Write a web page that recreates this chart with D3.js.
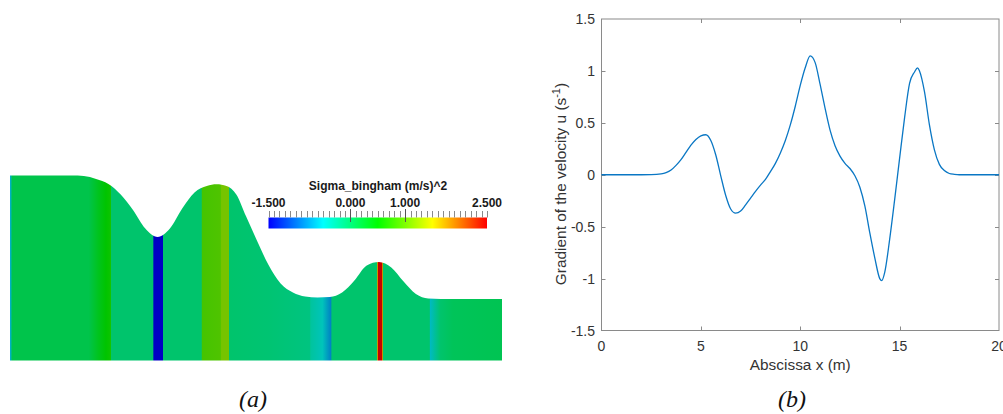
<!DOCTYPE html>
<html>
<head>
<meta charset="utf-8">
<script src="https://cdn.jsdelivr.net/npm/d3@7/dist/d3.min.js"></script>
<style>
    body { margin: 0; background: #fff; }
    svg { display: block; font-family: "Liberation Sans", Arial, Helvetica, sans-serif; }
</style>
</head>
<body>
<svg id="fig" width="1003" height="414"></svg>
<script>
/************************************* Data *************************************/

// (a) free surface profile along the channel (x in m, height of the water column)
const profileX = [0, 2.5, 3.0, 3.5, 4.0, 4.5, 5.0, 5.5, 6.0, 6.5, 7.0, 7.5, 8.0, 8.4, 8.8, 9.2, 9.6,
    10.0, 10.5, 11.0, 11.5, 12.0, 12.5, 13.0, 13.5, 14.0, 14.5, 15.0, 15.5, 16.0, 16.5, 17.0, 17.5, 20];
const profileH = [1.85, 1.85, 1.845, 1.815, 1.765, 1.66, 1.505, 1.32, 1.235, 1.32, 1.52, 1.68, 1.745, 1.762, 1.745, 1.66, 1.44,
    1.22, 0.96, 0.77, 0.68, 0.64, 0.63, 0.635, 0.68, 0.80, 0.95, 0.985, 0.93, 0.79, 0.665, 0.62, 0.615, 0.615];

// (a) Sigma_bingham along x (value sampled at the stations, drawn as vertical bands)
const sigmaX = [0, 0.05, 0.07, 3.2, 3.6, 3.9, 4.05, 4.1, 4.12, 5.82, 5.84, 6.2, 6.22, 7.78, 7.8, 8.55, 8.6, 8.9, 8.92,
    10.5, 12.2, 12.22, 12.7, 13.05, 13.08, 14.9, 14.93, 14.97, 15.11, 15.15, 15.18, 17.05, 17.07, 17.5, 18.0, 20];
const sigmaVal = [-0.6, -0.6, 0.12, 0.12, 0.35, 0.5, 0.55, 0.62, -0.05, -0.05, -2.0, -2.0, -0.05, -0.05, 0.85, 0.9, 1.1, 1.1, -0.05,
    -0.08, -0.15, -0.3, -0.45, -0.85, -0.05, -0.05, 1.5, 2.5, 2.5, 1.6, -0.05, -0.05, -0.55, -0.05, 0.05, 0.08];

// colour bar
const barDomain = [-1.5, -0.5, 0.5, 1.5, 2.5];
const barColors = ["#0000ff", "#00ffff", "#00ff00", "#ffff00", "#ff0000"];
const barLabels = [-1.5, 0, 1, 2.5];

// (b) gradient of the velocity
const gradX = [0, 1, 2, 2.5, 3, 3.25, 3.5, 3.75, 4, 4.25, 4.5, 4.75, 5, 5.25, 5.5, 5.75, 6, 6.25, 6.5, 6.75,
    7, 7.25, 7.5, 7.75, 8, 8.25, 8.5, 8.75, 9, 9.25, 9.5, 9.75, 10, 10.25, 10.5, 10.75, 11, 11.25, 11.5, 11.75,
    12, 12.25, 12.5, 12.75, 13, 13.25, 13.5, 13.75, 14, 14.1, 14.25, 14.5, 14.75, 15, 15.25, 15.5, 15.75, 15.9, 16,
    16.25, 16.5, 16.75, 17, 17.25, 17.5, 17.75, 18, 19, 20];
const gradY = [0, 0, 0, 0.001, 0.008, 0.02, 0.045, 0.09, 0.145, 0.215, 0.285, 0.34, 0.375, 0.385, 0.33, 0.19, -0.01, -0.2, -0.33, -0.37,
    -0.35, -0.29, -0.225, -0.16, -0.1, -0.045, 0.03, 0.11, 0.21, 0.33, 0.48, 0.66, 0.86, 1.03, 1.145, 1.08, 0.87, 0.64, 0.43, 0.28,
    0.18, 0.11, 0.06, -0.01, -0.12, -0.3, -0.56, -0.8, -1.0, -1.02, -0.94, -0.62, -0.24, 0.16, 0.55, 0.88, 0.99, 1.03, 1.0,
    0.8, 0.48, 0.24, 0.1, 0.04, 0.012, 0.004, 0, 0, 0];
const xTicks = [0, 5, 10, 15, 20];
const yTicks = [-1.5, -1, -0.5, 0, 0.5, 1, 1.5];

/************************************* Panel (a) *************************************/
const svg = d3.select("#fig");
const defs = svg.append("defs");

const px = d3.scaleLinear().domain([0, 20]).range([10, 502]);
const ph = d3.scaleLinear().domain([0, 1.85]).range([360.5, 175.5]);

// jet colour map, the rendered field is darkened by lighting
const jet = d3.scaleLinear().domain(barDomain).range(barColors).clamp(true);
const shade = 0.77;
const shaded = function (v) {
    const c = d3.rgb(jet(v));
    return d3.rgb(c.r * shade, c.g * shade, c.b * shade).formatHex();
};

const fieldGrad = defs.append("linearGradient")
    .attr("id", "field")
    .attr("gradientUnits", "userSpaceOnUse")
    .attr("x1", px(0)).attr("x2", px(20))
    .attr("y1", 0).attr("y2", 0);
fieldGrad.selectAll("stop")
    .data(sigmaX)
    .enter().append("stop")
    .attr("offset", function (d) { return d / 20; })
    .attr("stop-color", function (d, i) { return shaded(sigmaVal[i]); });

const area = d3.area()
    .x(function (d) { return px(d[0]); })
    .y0(ph(0))
    .y1(function (d) { return ph(d[1]); })
    .curve(d3.curveMonotoneX);

svg.append("path")
    .datum(profileX.map(function (x, i) { return [x, profileH[i]]; }))
    .attr("d", area)
    .attr("fill", "url(#field)");

// colour bar
const cb = d3.scaleLinear().domain([-1.5, 2.5]).range([268.5, 487]);
const barGrad = defs.append("linearGradient")
    .attr("id", "bar");
barGrad.selectAll("stop")
    .data(barDomain)
    .enter().append("stop")
    .attr("offset", function (d) { return (d + 1.5) / 4; })
    .attr("stop-color", function (d, i) { return barColors[i]; });

svg.append("rect")
    .attr("x", cb(-1.5)).attr("y", 217.5)
    .attr("width", cb(2.5) - cb(-1.5)).attr("height", 11)
    .attr("fill", "url(#bar)");

svg.append("g")
    .selectAll("line")
    .data(d3.range(0, 41))
    .enter().append("line")
    .attr("x1", function (d) { return Math.round(cb(-1.5 + d * 0.1)) + 0.5; })
    .attr("x2", function (d) { return Math.round(cb(-1.5 + d * 0.1)) + 0.5; })
    .attr("y1", 211).attr("y2", 217.5)
    .attr("stroke", "#8a8a8a")
    .attr("stroke-width", 1);

svg.append("g")
    .selectAll("line")
    .data(barLabels.slice(1, 3))
    .enter().append("line")
    .attr("x1", function (d) { return Math.round(cb(d)) + 0.5; })
    .attr("x2", function (d) { return Math.round(cb(d)) + 0.5; })
    .attr("y1", 209).attr("y2", 222)
    .attr("stroke", "#555")
    .attr("stroke-width", 1);

svg.append("g")
    .selectAll("text")
    .data(barLabels)
    .enter().append("text")
    .attr("x", function (d) { return d === 2.5 ? 502 : cb(d); })
    .attr("y", 207)
    .attr("text-anchor", function (d) { return d === 2.5 ? "end" : "middle"; })
    .attr("font-size", 12)
    .attr("font-weight", "bold")
    .attr("fill", "#1a1a1a")
    .text(function (d) { return d.toFixed(3); });

svg.append("text")
    .attr("x", 378).attr("y", 190)
    .attr("text-anchor", "middle")
    .attr("font-size", 12)
    .attr("font-weight", "bold")
    .attr("fill", "#1a1a1a")
    .text("Sigma_bingham (m/s)^2");

/************************************* Panel (b) *************************************/
const bx = d3.scaleLinear().domain([0, 20]).range([601.5, 999]);
const by = d3.scaleLinear().domain([-1.5, 1.5]).range([330.5, 19]);
const axisColor = "#8a8a8a";
const textColor = "#333";

const plot = svg.append("g");

// ticks on all four sides (inside, MATLAB box)
const tickLen = 4;
plot.selectAll(".xt")
    .data(xTicks.slice(1, -1))
    .enter().append("path")
    .attr("class", "xt")
    .attr("d", function (d) {
        const x = Math.round(bx(d)) + 0.5;
        return "M" + x + "," + by(-1.5) + "v" + (-tickLen) + "M" + x + "," + by(1.5) + "v" + tickLen;
    })
    .attr("stroke", axisColor).attr("fill", "none");
plot.selectAll(".yt")
    .data(yTicks.slice(1, -1))
    .enter().append("path")
    .attr("class", "yt")
    .attr("d", function (d) {
        const y = Math.round(by(d)) + 0.5;
        return "M" + bx(0) + "," + y + "h" + tickLen + "M" + bx(20) + "," + y + "h" + (-tickLen);
    })
    .attr("stroke", axisColor).attr("fill", "none");

plot.append("rect")
    .attr("x", bx(0)).attr("y", by(1.5))
    .attr("width", bx(20) - bx(0)).attr("height", by(-1.5) - by(1.5))
    .attr("fill", "none")
    .attr("stroke", axisColor)
    .attr("stroke-width", 1);

const line = d3.line()
    .x(function (d) { return bx(d[0]); })
    .y(function (d) { return by(d[1]); })
    .curve(d3.curveMonotoneX);

plot.append("path")
    .datum(gradX.map(function (x, i) { return [x, gradY[i]]; }))
    .attr("d", line)
    .attr("fill", "none")
    .attr("stroke", "#0a77c4")
    .attr("stroke-width", 1.3);

plot.selectAll(".xl")
    .data(xTicks)
    .enter().append("text")
    .attr("class", "xl")
    .attr("x", function (d) { return bx(d); })
    .attr("y", 351)
    .attr("text-anchor", "middle")
    .attr("font-size", 14)
    .attr("fill", textColor)
    .text(function (d) { return String(d); });

plot.selectAll(".yl")
    .data(yTicks)
    .enter().append("text")
    .attr("class", "yl")
    .attr("x", 595)
    .attr("y", function (d) { return by(d) + 5; })
    .attr("text-anchor", "end")
    .attr("font-size", 14)
    .attr("fill", textColor)
    .text(function (d) { return String(d); });

plot.append("text")
    .attr("x", bx(10)).attr("y", 370)
    .attr("text-anchor", "middle")
    .attr("font-size", 15.4)
    .attr("fill", textColor)
    .text("Abscissa x (m)");

const ylab = plot.append("text")
    .attr("transform", "translate(566,184) rotate(-90)")
    .attr("text-anchor", "middle")
    .attr("font-size", 15.4)
    .attr("fill", textColor);
ylab.append("tspan").text("Gradient of the velocity u (s");
ylab.append("tspan").attr("dy", -6).attr("font-size", 11).text("-1");
ylab.append("tspan").attr("dy", 6).text(")");

/************************************* Captions *************************************/
svg.selectAll(".cap")
    .data([["(a)", 253], ["(b)", 792]])
    .enter().append("text")
    .attr("class", "cap")
    .attr("x", function (d) { return d[1]; })
    .attr("y", 407)
    .attr("text-anchor", "middle")
    .attr("font-family", "'Liberation Serif', 'DejaVu Serif', serif")
    .attr("font-style", "italic")
    .attr("font-size", 24)
    .attr("fill", "#111")
    .text(function (d) { return d[0]; });
</script>
</body>
</html>
